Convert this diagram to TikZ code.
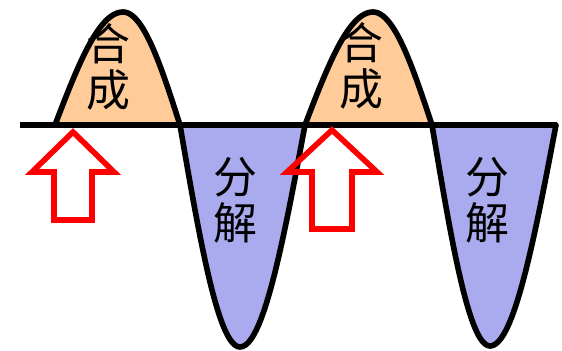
\documentclass[tikz,border=0pt]{standalone}
\usepackage{fontspec}
\newfontfamily\cjk{Noto Sans CJK SC}
\definecolor{hecheng}{HTML}{FFCC99}
\definecolor{fenjie}{HTML}{AAAAEE}

\begin{document}
\begin{tikzpicture}[x=0.02cm,y=-0.02cm,line cap=round,line join=round,
  wave/.style={draw=black,line width=3.2pt},
  zi/.style={inner sep=0pt,align=center,font=\cjk\fontsize{25}{26}\selectfont},
  kongjian/.style={draw=red,line width=3.2pt,line join=miter,line cap=butt}]
  \useasboundingbox (0,0) rectangle (562,351);
  % 合成（上峰）
  \filldraw[wave,fill=hecheng] plot[domain=0:90,samples=25] ({55+68*\x/90},{125-113*sin(\x)})
    -- plot[domain=90:180,samples=25] ({123+57*(\x-90)/90},{125-113*sin(\x)}) -- cycle;
  \filldraw[wave,fill=hecheng] plot[domain=0:90,samples=25] ({305+68*\x/90},{125-113*sin(\x)})
    -- plot[domain=90:180,samples=25] ({373+59*(\x-90)/90},{125-113*sin(\x)}) -- cycle;
  % 分解（下谷）
  \filldraw[wave,fill=fenjie] plot[domain=0:90,samples=25] ({180+60*\x/90},{125+222*sin(\x)})
    -- plot[domain=90:180,samples=25] ({240+65*(\x-90)/90},{125+222*sin(\x)}) -- cycle;
  \filldraw[wave,fill=fenjie] plot[domain=0:90,samples=25] ({432+58*\x/90},{125+221*sin(\x)})
    -- plot[domain=90:180,samples=25] ({490+66*(\x-90)/90},{125+221*sin(\x)}) -- cycle;
  % 横轴
  \draw[wave,line cap=butt] (20,125) -- (557,125);
  % 文字
  \node[zi] (hc1) at (108,67) {合\\成};
  \node[zi] (hc2) at (361,66) {合\\成};
  \node[zi] (fj1) at (235,200) {分\\解};
  \node[zi] (fj2) at (487,200) {分\\解};
  % 空心箭头
  \draw[kongjian] (73,132) -- (114,172) -- (92,172) -- (92,220) -- (54,220) -- (54,172) -- (32,172) -- cycle;
  \draw[kongjian] (332,130) -- (377,172) -- (352,172) -- (352,229) -- (312,229) -- (312,172) -- (287,172) -- cycle;
\end{tikzpicture}
\end{document}
